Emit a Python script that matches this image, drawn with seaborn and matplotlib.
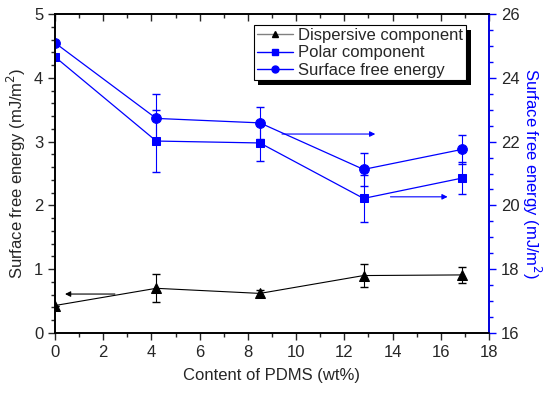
import numpy as np
import pandas as pd
import matplotlib
matplotlib.use("Agg")
import matplotlib.pyplot as plt
import seaborn as sns
from matplotlib.ticker import MultipleLocator
from matplotlib.lines import Line2D
from matplotlib.patches import Rectangle

# data
pdms = [0, 4.2, 8.5, 12.8, 16.9]
dispersive = [0.43, 0.70, 0.62, 0.90, 0.91]
dispersive_err = [0.0, 0.22, 0.06, 0.18, 0.12]
polar = [4.33, 3.01, 2.98, 2.11, 2.43]
polar_err = [0.0, 0.49, 0.28, 0.37, 0.25]
sfe = [25.1, 22.73, 22.59, 21.13, 21.76]
sfe_err = [0.0, 0.78, 0.50, 0.53, 0.45]
labels = ["Dispersive component", "Polar component", "Surface free energy"]

df = pd.DataFrame({"pdms": pdms, "dispersive": dispersive, "polar": polar, "sfe": sfe})

sns.set_style("ticks")
plt.rcParams['font.family'] = ['Liberation Sans', 'DejaVu Sans']

fig, ax = plt.subplots(figsize=(5.5, 3.94), dpi=100)
ax2 = ax.twinx()
fig.subplots_adjust(left=0.1, right=0.889, top=0.964, bottom=0.155)

blue = "#0000ff"

# left axis: dispersive and polar
sns.lineplot(data=df, x="pdms", y="dispersive", ax=ax, color="black", marker="^",
             markersize=7, markeredgecolor="black", linewidth=0.8, legend=False)
ax.errorbar(pdms, dispersive, yerr=dispersive_err, fmt="none", ecolor="black", elinewidth=0.8, capsize=3)
sns.lineplot(data=df, x="pdms", y="polar", ax=ax, color=blue, marker="s",
             markersize=6, markeredgecolor=blue, linewidth=0.9, legend=False)
ax.errorbar(pdms, polar, yerr=polar_err, fmt="none", ecolor=blue, elinewidth=0.8, capsize=3)

# right axis: total surface free energy
sns.lineplot(data=df, x="pdms", y="sfe", ax=ax2, color=blue, marker="o",
             markersize=7, markeredgecolor=blue, linewidth=0.9, legend=False)
ax2.errorbar(pdms, sfe, yerr=sfe_err, fmt="none", ecolor=blue, elinewidth=0.8, capsize=3)

# arrows showing which axis to read
ax.annotate("", xy=(0.3, 0.61), xytext=(2.6, 0.61),
            arrowprops=dict(arrowstyle="-|>", color="black", lw=0.8, mutation_scale=8))
ax2.annotate("", xy=(13.4, 22.24), xytext=(9.3, 22.24),
             arrowprops=dict(arrowstyle="-|>", color=blue, lw=0.8, mutation_scale=8))
ax2.annotate("", xy=(16.4, 20.27), xytext=(13.8, 20.27),
             arrowprops=dict(arrowstyle="-|>", color=blue, lw=0.8, mutation_scale=8))

ax.set_xlim(0, 18)
ax.set_ylim(0, 5)
ax2.set_ylim(16, 26)
ax.xaxis.set_major_locator(MultipleLocator(2))
ax.xaxis.set_minor_locator(MultipleLocator(1))
ax.yaxis.set_major_locator(MultipleLocator(1))
ax.yaxis.set_minor_locator(MultipleLocator(0.2))
ax2.yaxis.set_major_locator(MultipleLocator(2))
ax2.yaxis.set_minor_locator(MultipleLocator(0.5))

ax.set_xlabel("Content of PDMS (wt%)", fontsize=12, labelpad=6)
ax.set_ylabel("Surface free energy (mJ/m$^2$)", fontsize=12, labelpad=4)
ax2.set_ylabel("Surface free energy (mJ/m$^2$)", fontsize=12, color=blue, rotation=270, labelpad=17)

for a in (ax, ax2):
    for s in a.spines.values():
        s.set_visible(True)
        s.set_linewidth(1.2)
        s.set_color("black")
ax2.spines["right"].set_color(blue)

ax.tick_params(axis="both", which="major", direction="out", length=5, width=1, labelsize=12, top=True)
ax.tick_params(axis="both", which="minor", direction="out", length=3, width=1, top=True)
ax.tick_params(axis="y", which="both", right=False)
ax2.tick_params(axis="y", which="major", direction="out", length=5, width=1, color=blue, labelsize=12)
ax2.tick_params(axis="y", which="minor", direction="out", length=3, width=1, color=blue)
# top ticks point inward
for t in ax.xaxis.get_major_ticks() + ax.xaxis.get_minor_ticks():
    t.tick2line.set_marker(matplotlib.lines.TICKDOWN)

# legend
handles = [
    Line2D([], [], color="gray", lw=1, marker="^", markersize=5, markerfacecolor="black", markeredgecolor="black"),
    Line2D([], [], color=blue, lw=1, marker="s", markersize=4.5, markerfacecolor=blue, markeredgecolor=blue),
    Line2D([], [], color=blue, lw=1, marker="o", markersize=5, markerfacecolor=blue, markeredgecolor=blue),
]
leg_right, leg_top = 0.947, 0.965
leg = ax2.legend(handles, labels, loc="upper right", bbox_to_anchor=(leg_right, leg_top),
                 fontsize=12, frameon=True, fancybox=False, edgecolor="black", framealpha=1,
                 borderpad=0.15, labelspacing=0.15, handlelength=2.2, handletextpad=0.3, borderaxespad=0)
leg.get_frame().set_linewidth(0.8)
leg.set_zorder(10)

# black drop shadow behind the legend box, in axes fractions
ax_w = (0.889 - 0.1) * 550
ax_h = (0.964 - 0.155) * 394
leg_w, leg_h, off = 213 / ax_w, 55 / ax_h, 5
sx, sy = off / ax_w, off / ax_h
ax2.add_artist(Rectangle((leg_right - leg_w + sx, leg_top - leg_h - sy), leg_w, leg_h,
                         transform=ax2.transAxes, facecolor="black", edgecolor="none",
                         zorder=9, clip_on=False))

fig.savefig("out.png", dpi=100)
